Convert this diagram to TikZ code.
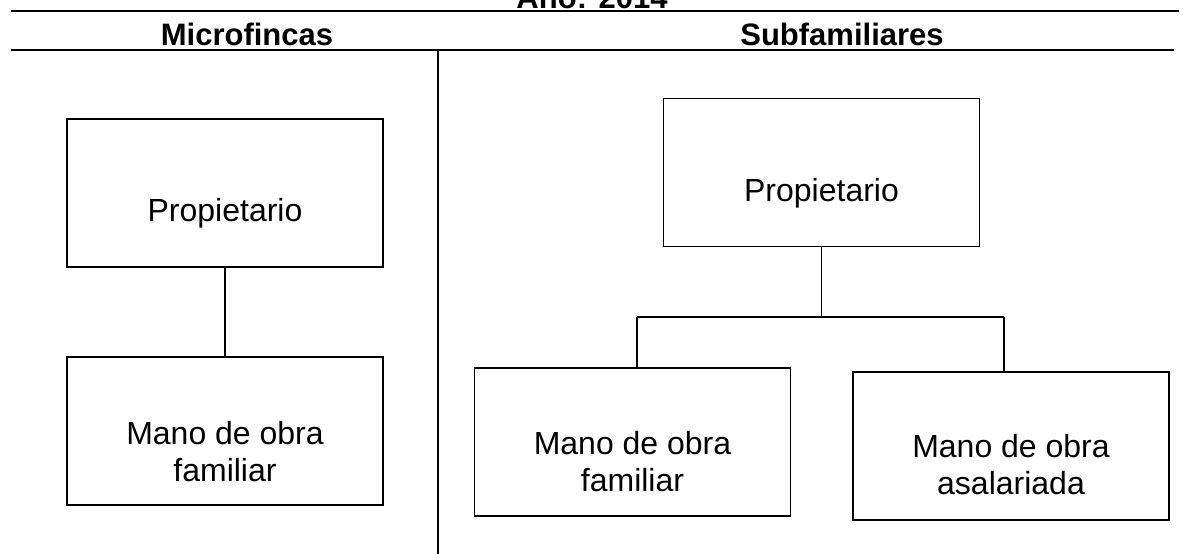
\documentclass[tikz,border=0pt]{standalone}
\usepackage{fontspec}
\setmainfont{Liberation Sans}
\begin{document}
\begin{tikzpicture}[x=1pt,y=-1pt,
  rule/.style={line width=2pt},
  box/.style={draw,line width=1.4pt,minimum width=316pt,minimum height=148pt,inner sep=0pt},
  boxtext/.style={align=center,inner sep=0pt,font=\fontsize{32}{37}\selectfont},
  head/.style={anchor=base,inner sep=0pt,font=\fontsize{31}{36}\selectfont\bfseries},
  link/.style={line width=1.4pt}]
\useasboundingbox (0,0) rectangle (1183,554);
% rules
\coordinate (t1) at (11,11);
\coordinate (t2) at (1179,11);
\coordinate (h1) at (11,50);
\coordinate (h2) at (1174,50);
\coordinate (d1) at (437.5,50);
\coordinate (d2) at (437.5,554);
\draw[rule] (t1) -- (t2);
\draw[rule] (h1) -- (h2);
\draw[rule] (d1) -- (d2);
% headings
\node[head] (title) at (592,9) {Año: 2014};
\node[head] (micro) at (247,45) {Microfincas};
\node[head] (subf) at (842,45) {Subfamiliares};
% left boxes
\node[box] (lp) at (225,193) {};
\node[box] (lm) at (225,431) {};
\node[boxtext] (lpt) at (225,213) {Propietario};
\node[boxtext] (lmt) at (225,452) {Mano de obra\\familiar};
\draw[link] (lp.south) -- (lm.north);
% right boxes
\node[box] (rp) at (821.5,172.5) {};
\node[box] (rl) at (632.5,442) {};
\node[box] (rr) at (1011,446) {};
\node[boxtext] (rpt) at (821.5,193) {Propietario};
\node[boxtext] (rlt) at (632.5,462) {Mano de obra\\familiar};
\node[boxtext] (rrt) at (1011,465) {Mano de obra\\asalariada};
\coordinate (bar) at (821.5,317);
\coordinate (bl) at (637,317);
\coordinate (br) at (1004,317);
\draw[link] (rp.south) -- (bar);
\draw[link] (bl) -- (br);
\draw[link] (bl) -- (bl |- rl.north);
\draw[link] (br) -- (br |- rr.north);
\end{tikzpicture}
\end{document}
